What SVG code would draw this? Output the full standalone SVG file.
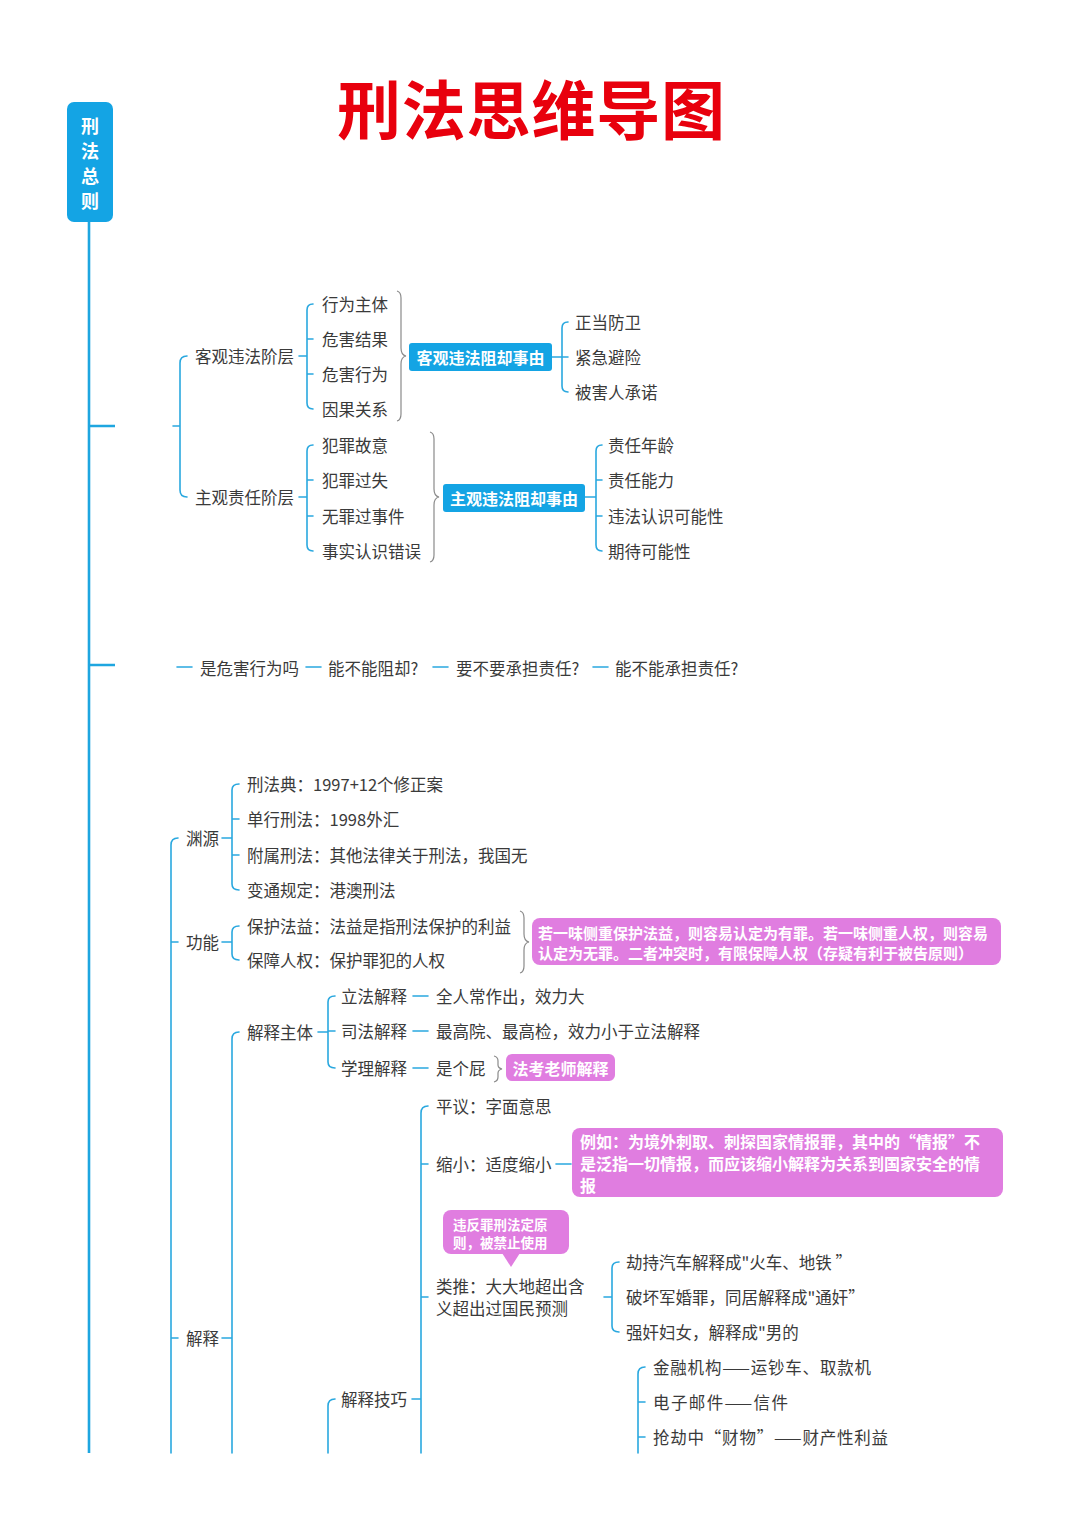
<svg xmlns="http://www.w3.org/2000/svg" width="1080" height="1527" viewBox="0 0 1080 1527">
<style>
.t{font-family:"Noto Sans CJK SC","Noto Sans",sans-serif;font-size:16.5px;fill:#3a3a3a;dominant-baseline:central}
.w{font-family:"Noto Sans CJK SC","Noto Sans",sans-serif;font-weight:bold;fill:#ffffff;dominant-baseline:central}
.ln{fill:none;stroke:#2aa8df;stroke-width:1.6;stroke-linecap:round}
.main{fill:none;stroke:#1ea6e0;stroke-width:2.6}
.br{fill:none;stroke:#8a8a8a;stroke-width:1.2}
.blue{fill:#14a4e4}
.pink{fill:#e07de0}
</style>
<rect width="1080" height="1527" fill="#ffffff"/>
<g id="title"><text x="531" y="106" text-anchor="middle" textLength="388" style="font-family:'Noto Sans CJK SC',sans-serif;font-size:64px;font-weight:bold;fill:#e8000d;dominant-baseline:central">刑法思维导图</text></g>
<g id="root">
<rect x="67" y="102" width="46" height="120" rx="7" class="blue"/>
<text class="w" x="90" y="125" text-anchor="middle" font-size="18">刑</text>
<text class="w" x="90" y="150" text-anchor="middle" font-size="18">法</text>
<text class="w" x="90" y="175" text-anchor="middle" font-size="18">总</text>
<text class="w" x="90" y="200" text-anchor="middle" font-size="18">则</text>
</g>
<g id="connectors">
<path class="main" d="M89 222 V1453 M89 426 H115 M89 665 H115"/>
<path class="ln" d="M173 426 H180 M187 356 Q180 356 180 363 V490 Q180 497 187 497"/>
<path class="ln" d="M299 356 H307 M313 304 Q307 304 307 310 V403 Q307 409 313 409 M307 339 H313 M307 374 H313"/>
<path class="br" d="M397 291 Q401 292 401 298 V348 Q401 355 406 356 Q401 357 401 364 V414 Q401 420 397 421"/>
<path class="ln" d="M552 357 H562 M568 322 Q562 322 562 328 V386 Q562 392 568 392 M562 357 H568"/>
<path class="ln" d="M299 497 H307 M313 445 Q307 445 307 451 V545 Q307 551 313 551 M307 480 H313 M307 516 H313"/>
<path class="br" d="M430 432 Q434 433 434 439 V489 Q434 496 439 497 Q434 498 434 505 V555 Q434 561 430 562"/>
<path class="ln" d="M585 497 H596 M602 445 Q596 445 596 451 V545 Q596 551 602 551 M596 480 H602 M596 516 H602"/>
<path class="ln" d="M177 667 H192 M306 667 H321 M433 667 H448 M593 667 H608"/>
<path class="ln" d="M178 838 Q171 838 171 845 V1453 M171 942 H178 M171 1338 H178"/>
<path class="ln" d="M222 838 H232 M239 784 Q232 784 232 790 V884 Q232 890 239 890 M232 819 H239 M232 855 H239"/>
<path class="ln" d="M222 942 H232 M239 926 Q232 926 232 932 V954 Q232 960 239 960"/>
<path class="br" d="M520 911 Q524 912 524 918 V934 Q524 941 529 942 Q524 943 524 950 V966 Q524 972 520 973"/>
<path class="ln" d="M222 1338 H232 M239 1032 Q232 1032 232 1039 V1453"/>
<path class="ln" d="M318 1032 H328 M335 996 Q328 996 328 1002 V1062 Q328 1068 335 1068 M328 1031 H335"/>
<path class="ln" d="M413 996 H428 M413 1031 H428 M413 1068 H428"/>
<path class="br" d="M494 1056 Q498 1057 498 1061 V1065 Q498 1068 502 1069 Q498 1070 498 1073 V1077 Q498 1081 494 1082"/>
<path class="ln" d="M335 1399 Q328 1399 328 1406 V1453"/>
<path class="ln" d="M412 1399 H421 M428 1106 Q421 1106 421 1113 V1453 M421 1164 H428 M421 1297 H428"/>
<path class="ln" d="M556 1164 H571"/>
<path class="ln" d="M604 1297 H612 M619 1262 Q612 1262 612 1268 V1326 Q612 1332 619 1332"/>
<path class="ln" d="M645 1367 Q638 1367 638 1374 V1453 M638 1402 H645 M638 1437 H645"/>
</g>
<g id="n-kg"><text class="t" x="195" y="356">客观违法阶层</text></g>
<g id="n-zg"><text class="t" x="195" y="497">主观责任阶层</text></g>
<g id="n-kg-c">
<text class="t" x="322" y="304">行为主体</text>
<text class="t" x="322" y="339">危害结果</text>
<text class="t" x="322" y="374">危害行为</text>
<text class="t" x="322" y="409">因果关系</text>
</g>
<g id="n-kgzq"><rect x="409" y="343" width="143" height="28" rx="3" class="blue"/><text class="w" x="480.5" y="357" text-anchor="middle" font-size="16">客观违法阻却事由</text></g>
<g id="n-kgzq-c">
<text class="t" x="575" y="322">正当防卫</text>
<text class="t" x="575" y="357">紧急避险</text>
<text class="t" x="575" y="392">被害人承诺</text>
</g>
<g id="n-zg-c">
<text class="t" x="322" y="445">犯罪故意</text>
<text class="t" x="322" y="480">犯罪过失</text>
<text class="t" x="322" y="516">无罪过事件</text>
<text class="t" x="322" y="551">事实认识错误</text>
</g>
<g id="n-zgzq"><rect x="443" y="484" width="142" height="28" rx="3" class="blue"/><text class="w" x="514" y="498" text-anchor="middle" font-size="16">主观违法阻却事由</text></g>
<g id="n-zgzq-c">
<text class="t" x="608" y="445">责任年龄</text>
<text class="t" x="608" y="480">责任能力</text>
<text class="t" x="608" y="516">违法认识可能性</text>
<text class="t" x="608" y="551">期待可能性</text>
</g>
<g id="n-steps">
<text class="t" x="200" y="668">是危害行为吗</text>
<text class="t" x="328" y="668">能不能阻却?</text>
<text class="t" x="456" y="668">要不要承担责任?</text>
<text class="t" x="615" y="668">能不能承担责任?</text>
</g>
<g id="n-yy"><text class="t" x="186" y="838">渊源</text></g>
<g id="n-yy-c">
<text class="t" x="247" y="784">刑法典：1997+12个修正案</text>
<text class="t" x="247" y="819">单行刑法：1998外汇</text>
<text class="t" x="247" y="855">附属刑法：其他法律关于刑法，我国无</text>
<text class="t" x="247" y="890">变通规定：港澳刑法</text>
</g>
<g id="n-gn"><text class="t" x="186" y="942">功能</text></g>
<g id="n-gn-c">
<text class="t" x="247" y="926">保护法益：法益是指刑法保护的利益</text>
<text class="t" x="247" y="960">保障人权：保护罪犯的人权</text>
</g>
<g id="n-gn-note"><rect x="532" y="918" width="469" height="47" rx="8" class="pink"/>
<text class="w" x="538" y="932" font-size="15">若一味侧重保护法益，则容易认定为有罪。若一味侧重人权，则容易</text>
<text class="w" x="538" y="952" font-size="15">认定为无罪。二者冲突时，有限保障人权（存疑有利于被告原则）</text>
</g>
<g id="n-js"><text class="t" x="186" y="1338">解释</text></g>
<g id="n-jszt"><text class="t" x="247" y="1032">解释主体</text></g>
<g id="n-jszt-c">
<text class="t" x="341" y="996">立法解释</text>
<text class="t" x="341" y="1031">司法解释</text>
<text class="t" x="341" y="1068">学理解释</text>
<text class="t" x="436" y="996">全人常作出，效力大</text>
<text class="t" x="436" y="1031">最高院、最高检，效力小于立法解释</text>
<text class="t" x="436" y="1068">是个屁</text>
</g>
<g id="n-fk"><rect x="506" y="1054" width="109" height="27" rx="6" class="pink"/><text class="w" x="560.5" y="1068" text-anchor="middle" font-size="16">法考老师解释</text></g>
<g id="n-jsjq"><text class="t" x="341" y="1399">解释技巧</text></g>
<g id="n-jsjq-c">
<text class="t" x="436" y="1106">平议：字面意思</text>
<text class="t" x="436" y="1164">缩小：适度缩小</text>
<text class="t" x="436" y="1286">类推：大大地超出含</text>
<text class="t" x="436" y="1308">义超出过国民预测</text>
</g>
<g id="n-sx-note"><rect x="572" y="1128" width="431" height="69" rx="8" class="pink"/>
<text class="w" x="580" y="1141" font-size="16">例如：为境外刺取、刺探国家情报罪，其中的“情报”不</text>
<text class="w" x="580" y="1163" font-size="16">是泛指一切情报，而应该缩小解释为关系到国家安全的情</text>
<text class="w" x="580" y="1185" font-size="16">报</text>
</g>
<g id="n-lt-note"><rect x="443" y="1210" width="126" height="44" rx="8" class="pink"/><path d="M502 1253 L520 1253 L511 1267 Z" class="pink"/>
<text class="w" x="453" y="1224" font-size="13.5">违反罪刑法定原</text>
<text class="w" x="453" y="1242" font-size="13.5">则，被禁止使用</text>
</g>
<g id="n-lt-c">
<text class="t" x="626" y="1262">劫持汽车解释成"火车、地铁 ”</text>
<text class="t" x="626" y="1297">破坏军婚罪，同居解释成"通奸”</text>
<text class="t" x="626" y="1332">强奸妇女，解释成"男的</text>
</g>
<g id="n-kd-c">
<text class="t" x="653" y="1367" textLength="218">金融机构——运钞车、取款机</text>
<text class="t" x="653" y="1402" textLength="135">电子邮件——信件</text>
<text class="t" x="653" y="1437" textLength="235">抢劫中“财物”——财产性利益</text>
</g>
</svg>
